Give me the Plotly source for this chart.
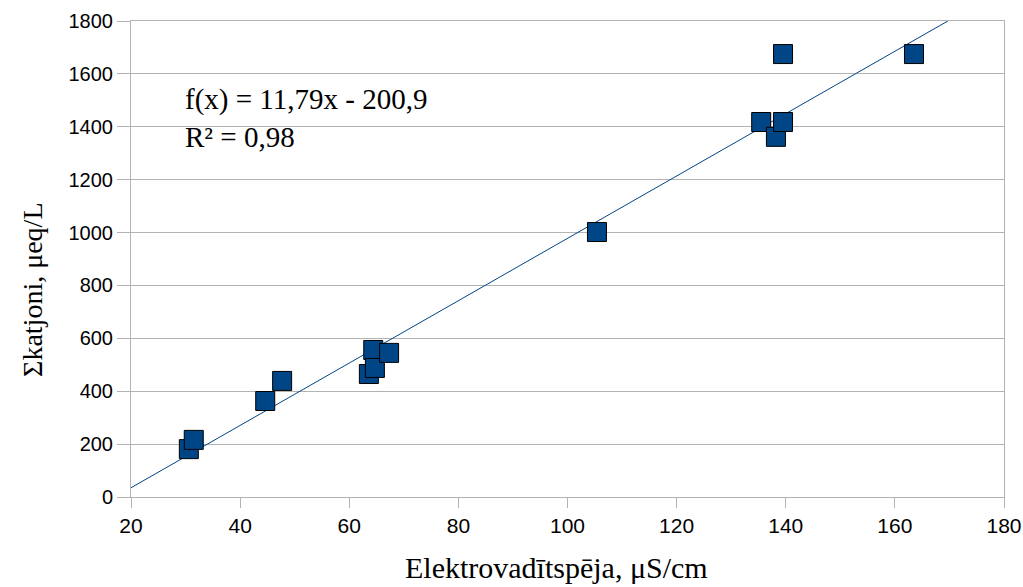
import plotly.graph_objects as go

# Conductivity (µS/cm) and cation sum (µeq/L) for each sample
conductivity = [30.6, 31.5, 44.6, 47.7, 63.6, 64.4, 64.7, 67.3, 105.4,
                135.5, 138.2, 139.5, 139.5, 163.5]
cation_sum = [181, 216, 363, 439, 465, 556, 488, 545, 1002,
              1418, 1362, 1418, 1675, 1675]

# Linear trend reported on the chart
slope = 11.79
intercept = -200.9
r_squared = 0.98

x_min, x_max = 20, 180
y_min, y_max = 0, 1800

# Trend line from the left edge up to where it leaves the top of the plot
x_end = min(x_max, (y_max - intercept) / slope)
trend_x = [x_min, x_end]
trend_y = [slope * v + intercept for v in trend_x]

color = "#004586"
grid = "#b3b3b3"

fig = go.Figure()
fig.add_trace(go.Scatter(
    x=trend_x, y=trend_y, mode="lines",
    line=dict(color=color, width=1), hoverinfo="skip", showlegend=False,
))
fig.add_trace(go.Scatter(
    x=conductivity, y=cation_sum, mode="markers",
    marker=dict(symbol="square", size=19, color=color,
                line=dict(color="#000000", width=1)),
    showlegend=False, cliponaxis=False,
))

def fmt(v, d):
    return f"{v:.{d}f}".replace(".", ",")

eq_text = (f"f(x) = {fmt(slope, 2)}x - {fmt(abs(intercept), 1)}"
           f"<br>R² = {fmt(r_squared, 2)}")

serif = "Liberation Serif, Times New Roman, serif"
sans = "Liberation Sans, Arial, sans-serif"

fig.add_annotation(x=0.059, y=0.796, xref="paper", yref="paper",
                   text=eq_text, showarrow=False, align="left",
                   xanchor="left", yanchor="middle",
                   font=dict(family=serif, size=29, color="#000000"))

# Axis titles
fig.add_annotation(x=0.487, y=-0.149, xref="paper", yref="paper",
                   text="Elektrovadītspēja, μS/cm", showarrow=False,
                   xanchor="center", yanchor="middle",
                   font=dict(family=serif, size=30, color="#000000"))
fig.add_annotation(x=-0.1123, y=0.435, xref="paper", yref="paper",
                   text="Σkatjoni, μeq/L", showarrow=False, textangle=-90,
                   xanchor="center", yanchor="middle",
                   font=dict(family=serif, size=28, color="#000000"))

fig.update_xaxes(
    range=[x_min, x_max], tickmode="array", tickvals=list(range(20, 181, 20)),
    showgrid=False, zeroline=False, automargin=False,
    showline=True, linecolor=grid, linewidth=1, mirror=True,
    ticks="outside", ticklen=10, tickcolor=grid,
    tickfont=dict(family=sans, size=21, color="#000000"),
)
fig.update_yaxes(
    range=[y_min, y_max], tickmode="array", tickvals=list(range(0, 1801, 200)),
    showgrid=True, gridcolor=grid, gridwidth=1, zeroline=False, automargin=False,
    showline=True, linecolor=grid, linewidth=1, mirror=True,
    ticks="outside", ticklen=13, tickcolor=grid,
    tickfont=dict(family=sans, size=20, color="#000000"),
)
fig.update_layout(
    width=1023, height=587,
    margin=dict(l=131, r=19, t=21, b=90),
    paper_bgcolor="#ffffff", plot_bgcolor="#ffffff",
)

fig.write_html("out.html")
